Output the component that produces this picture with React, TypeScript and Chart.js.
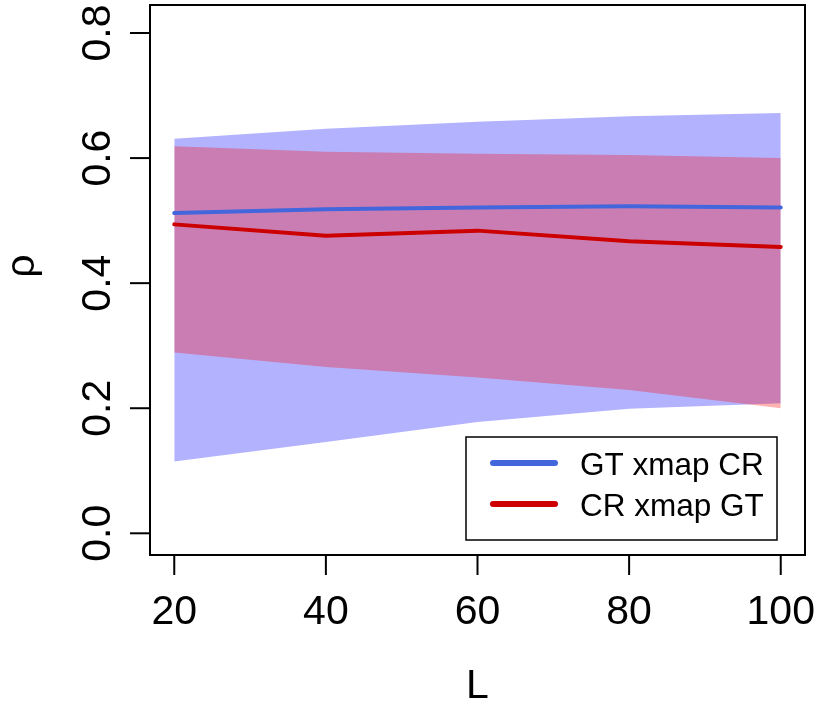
import { useEffect, useRef } from "react";
import { Chart, registerables } from "chart.js";

Chart.register(...registerables);

const L_VALUES = [20, 40, 60, 80, 100];
const GT_XMAP_CR = [0.512, 0.518, 0.521, 0.523, 0.521];
const CR_XMAP_GT = [0.494, 0.476, 0.484, 0.467, 0.458];
const GT_UPPER = [0.631, 0.647, 0.658, 0.667, 0.672];
const GT_LOWER = [0.115, 0.146, 0.178, 0.199, 0.208];
const CR_UPPER = [0.619, 0.61, 0.607, 0.605, 0.6];
const CR_LOWER = [0.289, 0.266, 0.249, 0.229, 0.2];

const X_TICKS = [20, 40, 60, 80, 100];
const X_TICK_LABELS = ["20", "40", "60", "80", "100"];
const Y_TICKS = [0, 0.2, 0.4, 0.6, 0.8];
const Y_TICK_LABELS = ["0.0", "0.2", "0.4", "0.6", "0.8"];
const SERIES_NAMES = ["GT xmap CR", "CR xmap GT"];
const X_TITLE = "L";
const Y_TITLE = "ρ";

const BLUE = "#4466dd";
const RED = "#cc0000";
const FONT = '"Liberation Sans", Arial, Helvetica, sans-serif';

const pts = (ys: number[]) => L_VALUES.map((x, i) => ({ x, y: ys[i] }));

const rAxes = {
  id: "rAxes",
  afterDraw(chart: any) {
    const { ctx, chartArea: a, scales } = chart;
    const xs = scales.x;
    const ys = scales.y;
    ctx.save();
    ctx.strokeStyle = "#000";
    ctx.lineWidth = 2;
    ctx.strokeRect(a.left, a.top, a.right - a.left, a.bottom - a.top);

    ctx.fillStyle = "#000";
    ctx.font = `41px ${FONT}`;
    // y ticks
    Y_TICKS.forEach((v, i) => {
      const y = ys.getPixelForValue(v);
      ctx.beginPath();
      ctx.moveTo(a.left - 20, y);
      ctx.lineTo(a.left, y);
      ctx.stroke();
      ctx.save();
      ctx.translate(a.left - 40, y);
      ctx.rotate(-Math.PI / 2);
      ctx.textAlign = "center";
      ctx.textBaseline = "alphabetic";
      ctx.fillText(Y_TICK_LABELS[i], 0, 0);
      ctx.restore();
    });
    // x ticks
    X_TICKS.forEach((v, i) => {
      const x = xs.getPixelForValue(v);
      ctx.beginPath();
      ctx.moveTo(x, a.bottom);
      ctx.lineTo(x, a.bottom + 20);
      ctx.stroke();
      ctx.textAlign = "center";
      ctx.textBaseline = "alphabetic";
      ctx.fillText(X_TICK_LABELS[i], x, a.bottom + 69);
    });
    // titles
    ctx.textAlign = "center";
    ctx.fillText(X_TITLE, (a.left + a.right) / 2, a.bottom + 143);
    ctx.save();
    ctx.translate(34, 266);
    ctx.rotate(-Math.PI / 2);
    ctx.fillText(Y_TITLE, 0, 0);
    ctx.restore();

    // legend
    const lx = a.right - 339;
    const ly = a.bottom - 118;
    ctx.lineWidth = 1.5;
    ctx.strokeRect(lx, ly, 311, 103);
    const colors = [BLUE, RED];
    SERIES_NAMES.forEach((name, i) => {
      const y = ly + 26 + i * 41;
      ctx.strokeStyle = colors[i];
      ctx.lineWidth = 6;
      ctx.lineCap = "round";
      ctx.beginPath();
      ctx.moveTo(lx + 27, y);
      ctx.lineTo(lx + 89, y);
      ctx.stroke();
      ctx.font = `31.5px ${FONT}`;
      ctx.textAlign = "left";
      ctx.fillStyle = "#000";
      ctx.fillText(name, lx + 114, y + 12);
    });
    ctx.restore();
  },
};

export default function App() {
  const ref = useRef<HTMLCanvasElement>(null);
  useEffect(() => {
    document.body.style.margin = "0";
    const canvas = ref.current!;
    const chart = new Chart(canvas, {
      type: "line",
      data: {
        datasets: [
          {
            label: SERIES_NAMES[0],
            data: pts(GT_XMAP_CR),
            borderColor: BLUE,
            borderWidth: 4,
            borderCapStyle: "round",
            pointRadius: 0,
            fill: false,
            order: 0,
          },
          {
            label: SERIES_NAMES[1],
            data: pts(CR_XMAP_GT),
            borderColor: RED,
            borderWidth: 4,
            borderCapStyle: "round",
            pointRadius: 0,
            fill: false,
            order: 0,
          },
          {
            label: "GT upper",
            data: pts(GT_UPPER),
            borderColor: "transparent",
            borderWidth: 1,
            pointRadius: 0,
            backgroundColor: "rgba(0,0,255,0.3)",
            fill: 3,
            order: 3,
          },
          {
            label: "GT lower",
            data: pts(GT_LOWER),
            borderColor: "transparent",
            borderWidth: 1,
            pointRadius: 0,
            fill: false,
            order: 3,
          },
          {
            label: "CR upper",
            data: pts(CR_UPPER),
            borderColor: "transparent",
            borderWidth: 1,
            pointRadius: 0,
            backgroundColor: "rgba(255,0,0,0.3)",
            fill: 5,
            order: 2,
          },
          {
            label: "CR lower",
            data: pts(CR_LOWER),
            borderColor: "transparent",
            borderWidth: 1,
            pointRadius: 0,
            fill: false,
            order: 2,
          },
        ],
      },
      options: {
        responsive: false,
        animation: false,
        devicePixelRatio: 1,
        layout: { padding: { left: 150, top: 5, right: 14, bottom: 154 } },
        scales: {
          x: { type: "linear", min: 16.8, max: 103.2, display: false },
          y: { type: "linear", min: -0.0347, max: 0.8448, display: false },
        },
        plugins: {
          legend: { display: false },
          tooltip: { enabled: false },
        },
        elements: { line: { tension: 0 } },
      },
      plugins: [rAxes],
    });
    return () => chart.destroy();
  }, []);
  return (
    <div style={{ width: 819, height: 709, background: "#fff" }}>
      <canvas ref={ref} width={819} height={709} />
    </div>
  );
}
